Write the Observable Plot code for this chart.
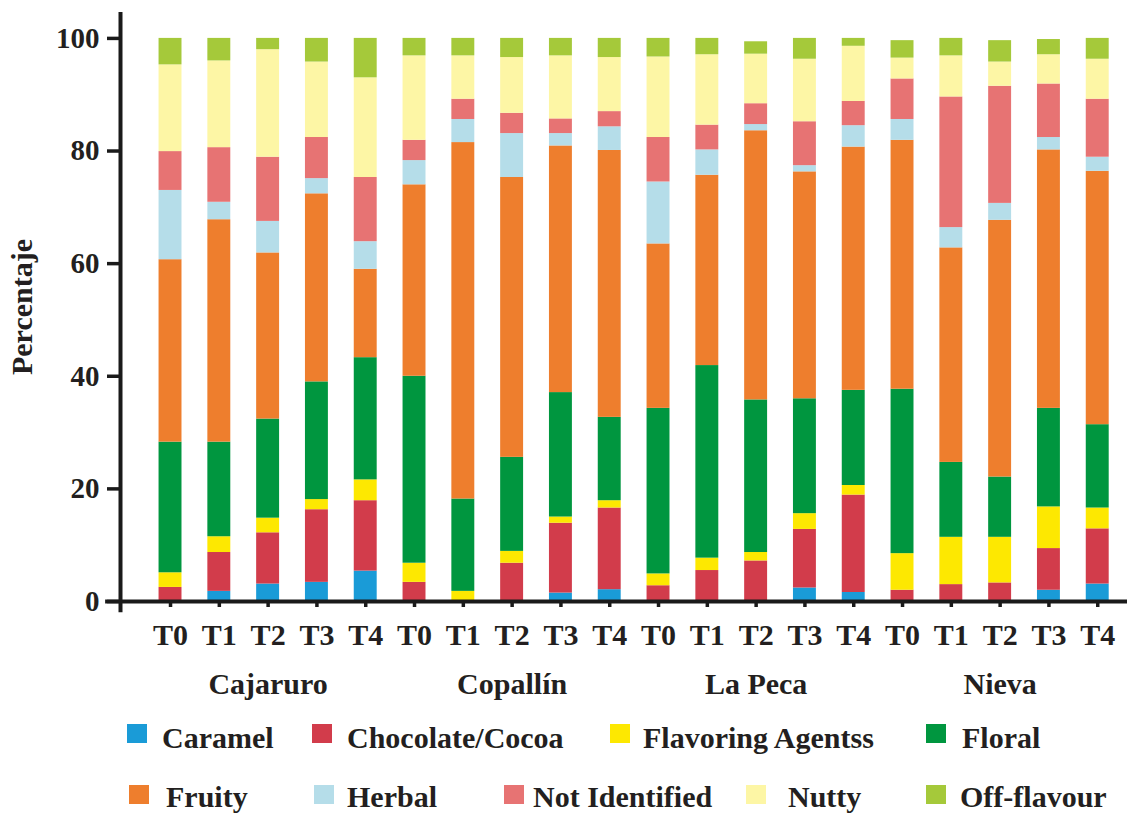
<!DOCTYPE html>
<html>
<head>
<meta charset="utf-8">
<script src="https://cdn.jsdelivr.net/npm/d3@7"></script>
<script src="https://cdn.jsdelivr.net/npm/@observablehq/plot@0.6"></script>
<style>
  html, body { margin: 0; padding: 0; background: #fff; }
  #wrap { position: relative; width: 1127px; height: 819px; font-family: "Liberation Serif", "Times New Roman", serif; font-weight: bold; color: #231f20; }
  #legend { position: absolute; left: 0; top: 0; width: 1127px; height: 819px; pointer-events: none; }
  .sw { position: absolute; width: 20px; height: 19px; }
  .lt { position: absolute; font-size: 30px; line-height: 30px; white-space: nowrap; }
</style>
</head>
<body>
<div id="wrap"><div id="chart"></div><div id="legend"></div></div>
<script>
const treatments = ["T0", "T1", "T2", "T3", "T4"];
const sites = ["Cajaruro", "Copallín", "La Peca", "Nieva"];
const categories = ["Caramel", "Chocolate/Cocoa", "Flavoring Agentss", "Floral", "Fruity", "Herbal", "Not Identified", "Nutty", "Off-flavour"];
const colors = ["#1a9bd7", "#d23c4b", "#fde801", "#00963f", "#ee7e2d", "#b5dde9", "#e77373", "#fdf6a5", "#a5c93a"];

// values (%) per bar: Cajaruro T0..T4, Copallín T0..T4, La Peca T0..T4, Nieva T0..T4
const caramel       = [0, 1.8, 3.1, 3.4, 5.4,   0, 0, 0, 1.5, 2.1,   0, 0, 0, 2.4, 1.6,   0, 0, 0, 2.0, 3.1];
const chocolate     = [2.5, 6.9, 9.1, 12.9, 12.5,   3.4, 0, 6.8, 12.4, 14.5,   2.8, 5.5, 7.2, 10.4, 17.3,   2.0, 3.0, 3.3, 7.4, 9.8];
const flavoring     = [2.6, 2.8, 2.6, 1.8, 3.7,   3.4, 1.8, 2.1, 1.1, 1.3,   2.1, 2.2, 1.5, 2.8, 1.7,   6.5, 8.4, 8.1, 7.4, 3.7];
const floral        = [23.2, 16.8, 17.6, 20.9, 21.7,   33.2, 16.4, 16.7, 22.1, 14.8,   29.4, 34.2, 27.1, 20.4, 16.9,   29.2, 13.3, 10.7, 17.5, 14.8];
const fruity        = [32.4, 39.5, 29.5, 33.4, 15.7,   34.0, 63.3, 49.7, 43.8, 47.4,   29.2, 33.8, 47.8, 40.3, 43.2,   44.2, 38.1, 45.6, 45.9, 45.0];
const herbal        = [12.3, 3.1, 5.6, 2.7, 4.9,   4.3, 4.1, 7.8, 2.2, 4.2,   11.0, 4.5, 1.1, 1.1, 3.8,   3.7, 3.6, 3.0, 2.2, 2.5];
const notIdentified = [6.9, 9.7, 11.4, 7.3, 11.4,   3.6, 3.6, 3.6, 2.6, 2.7,   7.9, 4.4, 3.7, 7.8, 4.3,   7.2, 23.2, 20.8, 9.5, 10.3];
const nutty         = [15.4, 15.4, 19.1, 13.4, 17.7,   15.0, 7.7, 9.9, 11.2, 9.6,   14.3, 12.5, 8.8, 11.1, 9.8,   3.7, 7.3, 4.3, 5.2, 7.1];
const offFlavour    = [4.7, 4.0, 2.0, 4.2, 7.0,   3.1, 3.1, 3.4, 3.1, 3.4,   3.3, 2.9, 2.2, 3.7, 1.4,   3.1, 3.1, 3.8, 2.7, 3.7];

const yTicks = [0, 20, 40, 60, 80, 100];
const yLabel = "Percentaje";

const series = [caramel, chocolate, flavoring, floral, fruity, herbal, notIdentified, nutty, offFlavour];
const table = [];
for (let i = 0; i < 20; i++) {
  categories.forEach((c, k) => {
    table.push({i, site: sites[Math.floor(i / 5)], treatment: treatments[i % 5], category: c, value: series[k][i]});
  });
}

const half = 0.235;
const chart = Plot.plot({
  width: 1127,
  height: 705,
  marginLeft: 120,
  marginRight: 0,
  marginTop: 12,
  marginBottom: 104,
  x: {type: "linear", domain: [-1.025, 19.61], axis: null},
  y: {domain: [0, 104.6], axis: null},
  color: {domain: categories, range: colors},
  style: {fontFamily: "'Liberation Serif', 'Times New Roman', serif", fontWeight: "bold", color: "#231f20", background: "white", overflow: "visible"},
  marks: [
    Plot.rectY(table, Plot.stackY({x1: d => d.i - half, x2: d => d.i + half, y: "value", fill: "category", order: categories})),
    Plot.axisY({ticks: yTicks, tickSize: 13, tickPadding: 8, strokeWidth: 3.5, stroke: "#1a1a1a", fontSize: 29, fontWeight: "bold", label: null}),
    Plot.axisX({ticks: d3.range(20), tickFormat: i => treatments[i % 5], tickSize: 6, tickPadding: 16, strokeWidth: 3.5, stroke: "#1a1a1a", fontSize: 30, fontWeight: "bold", label: null}),
    Plot.ruleY([0], {x1: -1.33, x2: 19.61, strokeWidth: 4, stroke: "#1a1a1a"}),
    Plot.ruleX([-1.025], {y1: -2, y2: 104.6, strokeWidth: 4, stroke: "#1a1a1a"}),
    Plot.text(sites, {x: (d, k) => k * 5 + 2, text: d => d, frameAnchor: "bottom", lineAnchor: "top", dy: 71, fontSize: 30, fontWeight: "bold", fill: "#231f20"}),
    Plot.text([yLabel], {text: d => d, frameAnchor: "left", textAnchor: "middle", rotate: -90, dx: -98, fontSize: 30, fontWeight: "bold", fill: "#231f20"})
  ]
});
document.getElementById("chart").appendChild(chart);

// legend layout (swatch left, text left, row)
const legendLayout = [
  [127, 162, 0], [312, 347, 0], [610, 643, 0], [926, 962, 0],
  [129, 166, 1], [314, 347, 1], [504, 533, 1], [746, 788, 1], [926, 960, 1]
];
const rowSwatchTop = [724, 785];
const rowTextTop = [723, 782];
const legend = document.getElementById("legend");
categories.forEach((c, k) => {
  const [sx, tx, row] = legendLayout[k];
  const sw = document.createElement("div");
  sw.className = "sw";
  sw.style.left = sx + "px";
  sw.style.top = rowSwatchTop[row] + "px";
  sw.style.background = colors[k];
  legend.appendChild(sw);
  const t = document.createElement("div");
  t.className = "lt";
  t.style.left = tx + "px";
  t.style.top = rowTextTop[row] + "px";
  t.textContent = c;
  legend.appendChild(t);
});
</script>
</body>
</html>
